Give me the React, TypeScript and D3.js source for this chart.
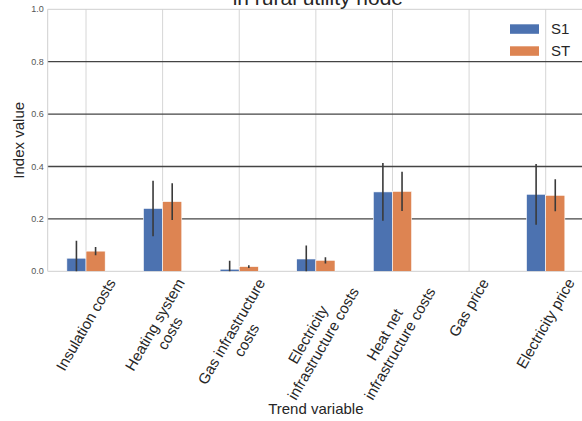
import React, { useEffect, useRef } from "react";
import * as d3 from "d3";

const categories = [
  "Insulation costs",
  "Heating system\ncosts",
  "Gas infrastructure\ncosts",
  "Electricity\ninfrastructure costs",
  "Heat net\ninfrastructure costs",
  "Gas price",
  "Electricity price",
];
const seriesNames = ["S1", "ST"];
const s1Values = [0.05, 0.24, 0.008, 0.047, 0.303, 0, 0.294];
const s1Errors = [0.067, 0.106, 0.032, 0.051, 0.11, 0, 0.116];
const stValues = [0.077, 0.266, 0.018, 0.042, 0.305, 0, 0.29];
const stErrors = [0.016, 0.07, 0.005, 0.012, 0.075, 0, 0.061];
const yTicks = [0, 0.2, 0.4, 0.6, 0.8, 1.0];
const titleText = "in rural utility node";
const xLabel = "Trend variable";
const yLabel = "Index value";

const W = 582;
const H = 421;
const FONT = "'Liberation Sans', Arial, Helvetica, sans-serif";
const COLORS = ["#4c72b0", "#dd8452"];

export default function App() {
  const ref = useRef<SVGSVGElement | null>(null);

  useEffect(() => {
    const svg = d3.select(ref.current);
    svg.selectAll("*").remove();

    const left = 47.7;
    const right = 584;
    const top = 9.3;
    const bottom = 271.3;

    const x = d3.scaleBand<string>().domain(categories).range([left, right]).padding(0);
    const y = d3.scaleLinear().domain([0, 1]).range([bottom, top]);
    const bw = x.bandwidth();
    const barW = bw * 0.25;

    const defs = svg.append("defs");
    defs
      .append("clipPath")
      .attr("id", "plotclip")
      .append("rect")
      .attr("x", left)
      .attr("y", top)
      .attr("width", right - left)
      .attr("height", bottom - top);

    // vertical grid
    svg
      .append("g")
      .selectAll("line")
      .data(categories)
      .join("line")
      .attr("x1", (d) => x(d)! + bw / 2)
      .attr("x2", (d) => x(d)! + bw / 2)
      .attr("y1", top)
      .attr("y2", bottom)
      .attr("stroke", "#d6d6d6")
      .attr("stroke-width", 1);

    // horizontal grid (dark)
    svg
      .append("g")
      .selectAll("line")
      .data(yTicks.filter((t) => t > 0 && t < 1))
      .join("line")
      .attr("x1", left)
      .attr("x2", right)
      .attr("y1", (d) => y(d))
      .attr("y2", (d) => y(d))
      .attr("stroke", "#444")
      .attr("stroke-width", 1.3);

    // spines
    const sp = svg.append("g").attr("stroke", "#cfcfcf").attr("stroke-width", 1).attr("fill", "none");
    sp.append("line").attr("x1", left).attr("x2", right).attr("y1", top).attr("y2", top);
    sp.append("line").attr("x1", left).attr("x2", right).attr("y1", bottom).attr("y2", bottom);
    sp.append("line").attr("x1", left).attr("x2", left).attr("y1", top).attr("y2", bottom);

    const series = [
      { vals: s1Values, errs: s1Errors, off: -barW },
      { vals: stValues, errs: stErrors, off: 0 },
    ];

    const plot = svg.append("g").attr("clip-path", "url(#plotclip)");
    series.forEach((s, si) => {
      plot
        .append("g")
        .selectAll("rect")
        .data(categories)
        .join("rect")
        .attr("x", (d) => x(d)! + bw / 2 + s.off)
        .attr("width", barW)
        .attr("y", (d, i) => y(s.vals[i]))
        .attr("height", (d, i) => y(0) - y(s.vals[i]))
        .attr("fill", COLORS[si])
        .attr("stroke", "#fff")
        .attr("stroke-width", 0.6);
    });
    series.forEach((s) => {
      plot
        .append("g")
        .selectAll("line")
        .data(categories.filter((_, i) => s.errs[i] > 0))
        .join("line")
        .attr("x1", (d) => x(d)! + bw / 2 + s.off + barW / 2)
        .attr("x2", (d) => x(d)! + bw / 2 + s.off + barW / 2)
        .attr("y1", (d) => {
          const i = categories.indexOf(d);
          return y(s.vals[i] + s.errs[i]);
        })
        .attr("y2", (d) => {
          const i = categories.indexOf(d);
          return y(s.vals[i] - s.errs[i]);
        })
        .attr("stroke", "#3a3a3a")
        .attr("stroke-width", 1.6);
    });

    // y tick labels
    svg
      .append("g")
      .selectAll("text")
      .data(yTicks)
      .join("text")
      .attr("x", left - 4)
      .attr("y", (d) => y(d))
      .attr("dy", "0.35em")
      .attr("text-anchor", "end")
      .attr("font-family", FONT)
      .attr("font-size", 9)
      .attr("fill", "#555")
      .text((d) => d3.format(".1f")(d));

    // x tick labels rotated 60deg, bbox-centered at tick
    const fs = 15;
    const lineH = 17.5;
    const ang = (60 * Math.PI) / 180;
    const xl = svg.append("g").attr("font-family", FONT).attr("font-size", fs).attr("fill", "#262626");
    categories.forEach((c) => {
      const lines = c.split("\n");
      const g = xl.append("g");
      const texts = lines.map((ln) => g.append("text").attr("text-anchor", "middle").text(ln));
      let wMax = 0;
      texts.forEach((t) => {
        const n = t.node() as SVGTextElement;
        wMax = Math.max(wMax, n.getComputedTextLength());
      });
      const hBox = fs * 1.1 + (lines.length - 1) * lineH;
      const bbH = wMax * Math.sin(ang) + hBox * Math.cos(ang);
      const cx = x(c)! + bw / 2;
      const cy = bottom + 4.5 + bbH / 2;
      texts.forEach((t, i) => {
        const yy = -hBox / 2 + fs * 0.88 + i * lineH;
        t.attr("x", 0).attr("y", yy);
      });
      g.attr("transform", `translate(${cx},${cy}) rotate(-60)`);
    });

    // axis labels
    svg
      .append("text")
      .attr("x", (left + right) / 2)
      .attr("y", 414)
      .attr("text-anchor", "middle")
      .attr("font-family", FONT)
      .attr("font-size", 15)
      .attr("fill", "#262626")
      .text(xLabel);
    svg
      .append("text")
      .attr("transform", `translate(24,${(top + bottom) / 2}) rotate(-90)`)
      .attr("text-anchor", "middle")
      .attr("font-family", FONT)
      .attr("font-size", 15)
      .attr("fill", "#262626")
      .text(yLabel);

    // title
    svg
      .append("text")
      .attr("x", (left + right) / 2 + 2)
      .attr("y", 5)
      .attr("text-anchor", "middle")
      .attr("font-family", FONT)
      .attr("font-size", 21)
      .attr("fill", "#262626")
      .text(titleText);

    // legend
    const lg = svg.append("g").attr("font-family", FONT).attr("font-size", 15).attr("fill", "#262626");
    seriesNames.forEach((nm, i) => {
      const yy = 24.3 + i * 22;
      lg.append("rect").attr("x", 510).attr("y", yy).attr("width", 29).attr("height", 9.5).attr("fill", COLORS[i]);
      lg.append("text").attr("x", 551).attr("y", yy + 10).text(nm);
    });
  }, []);

  return (
    <div style={{ position: "fixed", left: 0, top: 0, width: W, height: H, background: "#fff" }}>
      <svg ref={ref} width={W} height={H} style={{ display: "block" }} />
    </div>
  );
}
